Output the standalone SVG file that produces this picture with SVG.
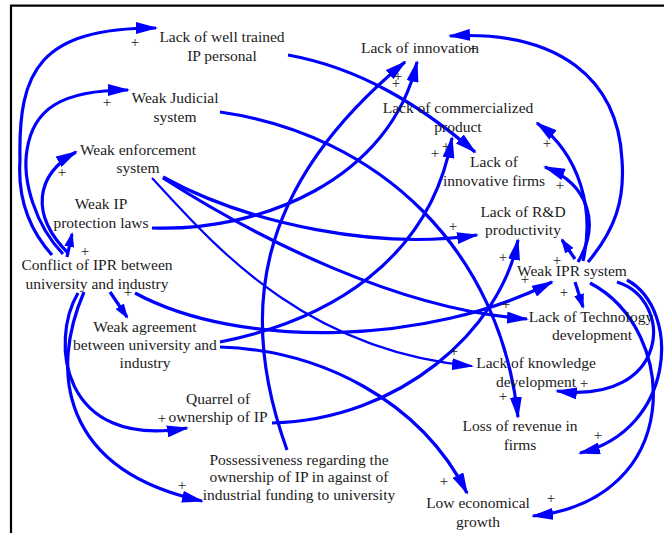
<svg xmlns="http://www.w3.org/2000/svg" width="664" height="533" viewBox="0 0 664 533">
  <style>
    .lbl { font-family: "Liberation Serif", "Times New Roman", serif; font-size: 15.5px; fill: #1b1b1b; text-anchor: middle; }
    .pol { font-family: "Liberation Serif", "Times New Roman", serif; font-size: 15px; fill: #1b1b1b; text-anchor: middle; }
    .c { fill: none; stroke: #0000ff; stroke-width: 3.2; marker-end: url(#head); }
    .c.thin { stroke-width: 2.2; }
    .c.short { marker-end: url(#headS); }
    .frame { fill: none; stroke: #000; stroke-width: 2.2; }
  </style>
  <defs>
    <marker id="head" markerUnits="userSpaceOnUse" markerWidth="22" markerHeight="12" viewBox="0 0 22 12" refX="20" refY="6" orient="auto">
      <path d="M0,0 L22,6 L0,12 Z" fill="#0000ff"/>
    </marker>
    <marker id="headS" markerUnits="userSpaceOnUse" markerWidth="15" markerHeight="10" viewBox="0 0 15 10" refX="13" refY="5" orient="auto">
      <path d="M0,0 L15,5 L0,10 Z" fill="#0000ff"/>
    </marker>
  </defs>

  <!-- frame -->
  <path class="frame" d="M11,533 V5.7 H664"/>

  <!-- causal links -->
  <g id="connectors">
    <path class="c" d="M52,255 C25,225 18,190 20,160 C18,70 40,28 156,28"/>
    <path class="c" d="M63,254 C35,225 22,180 27,150 C33,110 60,90 128,90"/>
    <path class="c" d="M68,253 C30,215 35,175 76,152"/>
    <path class="c short" d="M67,257 L72,234"/>
    <path class="c short" d="M110,292 L127,317"/>
    <path class="c" d="M78,293 C50,340 60,450 187,428"/>
    <path class="c" d="M84,292 C50,370 60,470 202,501"/>
    <path class="c" d="M135,293 C240,350 430,345 552,282"/>
    <path class="c" d="M152,228 C260,232 390,180 417,62"/>
    <path class="c" d="M287,450 C240,320 250,190 405,62"/>
    <path class="c" d="M163,177 C250,225 380,250 477,235"/>
    <path class="c" d="M163,178 C260,240 400,310 527,319"/>
    <path class="c thin" d="M152,178 C210,240 300,350 472,366"/>
    <path class="c" d="M220,112 C380,135 500,250 518,417"/>
    <path class="c" d="M288,55 C360,68 420,105 475,152"/>
    <path class="c" d="M220,342 C330,320 430,260 452,138"/>
    <path class="c" d="M220,347 C320,350 420,400 467,493"/>
    <path class="c" d="M272,423 C400,420 500,330 518,240"/>
    <path class="c" d="M588,262 C615,230 625,200 622,160 C618,80 560,30 450,36"/>
    <path class="c" d="M583,261 C595,210 580,155 537,123"/>
    <path class="c" d="M578,262 C600,225 590,185 545,167"/>
    <path class="c short" d="M575,259 L562,240"/>
    <path class="c short" d="M575,282 L583,307"/>
    <path class="c" d="M617,282 C675,300 670,405 557,391"/>
    <path class="c" d="M627,280 C682,310 675,430 580,453"/>
    <path class="c" d="M590,283 C680,330 685,500 533,516"/>
  </g>

  <!-- link polarities -->
  <g id="polarities">
    <text class="pol" x="135" y="47">+</text>
    <text class="pol" x="107" y="107">+</text>
    <text class="pol" x="62" y="177">+</text>
    <text class="pol" x="85" y="256">+</text>
    <text class="pol" x="128" y="297">+</text>
    <text class="pol" x="162" y="423">+</text>
    <text class="pol" x="182" y="490">+</text>
    <text class="pol" x="398" y="81">+</text>
    <text class="pol" x="396" y="88">+</text>
    <text class="pol" x="473" y="53">+</text>
    <text class="pol" x="435" y="158">+</text>
    <text class="pol" x="446" y="151">+</text>
    <text class="pol" x="547" y="148">+</text>
    <text class="pol" x="560" y="190">+</text>
    <text class="pol" x="453" y="231">+</text>
    <text class="pol" x="503" y="262">+</text>
    <text class="pol" x="557" y="265">+</text>
    <text class="pol" x="525" y="284">+</text>
    <text class="pol" x="564" y="297">+</text>
    <text class="pol" x="506" y="309">+</text>
    <text class="pol" x="454" y="356">+</text>
    <text class="pol" x="584" y="388">+</text>
    <text class="pol" x="503" y="401">+</text>
    <text class="pol" x="598" y="440">+</text>
    <text class="pol" x="444" y="486">+</text>
    <text class="pol" x="551" y="503">+</text>
  </g>

  <!-- variables -->
  <g id="lack-trained-ip-personal"><text class="lbl" x="222" y="42">Lack of well trained<tspan x="222" y="61">IP personal</tspan></text></g>
  <g id="weak-judicial-system"><text class="lbl" x="175" y="103">Weak Judicial<tspan x="175" y="122">system</tspan></text></g>
  <g id="weak-enforcement-system"><text class="lbl" x="138" y="155">Weak enforcement<tspan x="138" y="173">system</tspan></text></g>
  <g id="weak-ip-protection-laws"><text class="lbl" x="101" y="209">Weak IP<tspan x="101" y="228">protection laws</tspan></text></g>
  <g id="conflict-of-ipr"><text class="lbl" x="97" y="270">Conflict of IPR between<tspan x="97" y="289">university and industry</tspan></text></g>
  <g id="weak-agreement"><text class="lbl" x="145" y="332">Weak agreement<tspan x="145" y="350">between university and</tspan><tspan x="145" y="368">industry</tspan></text></g>
  <g id="quarrel-of-ownership"><text class="lbl" x="218" y="404">Quarrel of<tspan x="218" y="422">ownership of IP</tspan></text></g>
  <g id="possessiveness"><text class="lbl" x="299" y="465">Possessiveness regarding the<tspan x="299" y="482">ownership of IP in against of</tspan><tspan x="299" y="500">industrial funding to university</tspan></text></g>
  <g id="lack-of-innovation"><text class="lbl" x="420" y="53">Lack of innovation</text></g>
  <g id="lack-commercialized-product"><text class="lbl" x="458" y="113">Lack of commercialized<tspan x="458" y="132">product</tspan></text></g>
  <g id="lack-innovative-firms"><text class="lbl" x="494" y="167">Lack of<tspan x="494" y="186">innovative firms</tspan></text></g>
  <g id="lack-rd-productivity"><text class="lbl" x="523" y="217">Lack of R&amp;D<tspan x="523" y="235">productivity</tspan></text></g>
  <g id="weak-ipr-system"><text class="lbl" x="572" y="276">Weak IPR system</text></g>
  <g id="lack-technology-development"><text class="lbl" x="591" y="322">Lack of Technology<tspan x="592" y="340">development</tspan></text></g>
  <g id="lack-knowledge-development"><text class="lbl" x="536" y="368">Lack of knowledge<tspan x="536" y="387">development</tspan></text></g>
  <g id="loss-of-revenue"><text class="lbl" x="520" y="431">Loss of revenue in<tspan x="520" y="450">firms</tspan></text></g>
  <g id="low-economical-growth"><text class="lbl" x="478" y="508">Low economical<tspan x="478" y="527">growth</tspan></text></g>
</svg>
